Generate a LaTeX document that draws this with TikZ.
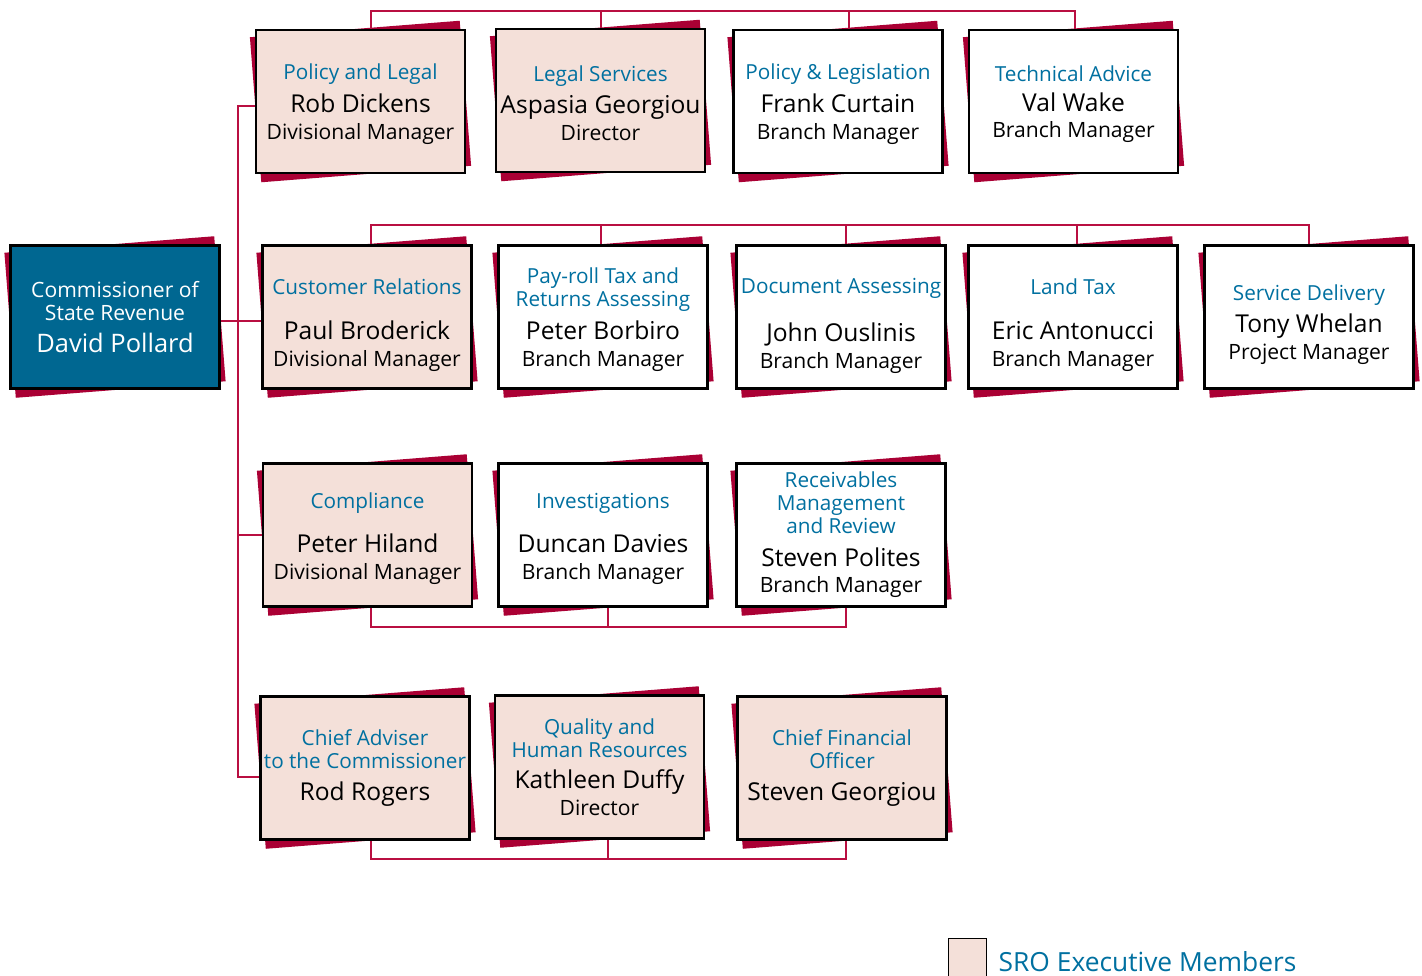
\documentclass[tikz,border=0pt]{standalone}
\usepackage{fontspec}
\setmainfont{Open Sans}
\usetikzlibrary{positioning,calc,backgrounds}
\definecolor{SROBlue}{RGB}{0,103,145}
\definecolor{SROTitle}{RGB}{0,112,160}
\definecolor{SROPink}{RGB}{244,224,217}
\definecolor{SROShadow}{RGB}{170,0,52}
\definecolor{SROLine}{RGB}{185,15,65}
\newcommand{\unittitle}{\fontsize{11.8}{13}\selectfont\color{SROTitle}}
\newcommand{\unitname}{\fontsize{14}{13}\selectfont}
\newcommand{\unitrole}{\fontsize{12}{13}\selectfont}
\newcommand{\unitdrop}[1]{\rule{0pt}{#1}}

\begin{document}
\begin{tikzpicture}[x=0.02cm,y=-0.02cm,
  unit/.style={draw=black,line width=1.6pt,fill=white,minimum width=4.18cm,minimum height=2.86cm,
    align=center,inner sep=0pt,font=\fontsize{12}{13}\selectfont},
  exec/.style={unit,fill=SROPink},
  shd/.style={fill=SROShadow,minimum width=4.21cm,minimum height=2.91cm,inner sep=0pt,rotate=4.5},
  link/.style={draw=SROLine,line width=1.2pt}]
\useasboundingbox (0,0) rectangle (1422,975);

% commissioner
\node[unit,fill=SROBlue,text=white] (cmr) at (115,317)
  {\unitrole Commissioner of\\\unitrole State Revenue\\[5pt]\fontsize{14.5}{13}\selectfont David Pollard};

% first row
\node[exec] (b1) at (360.5,101.5)
  {\unittitle Policy and Legal\unitdrop{12pt}\\[4pt]\unitname Rob Dickens\\[2.3pt]\unitrole Divisional Manager};
\node[exec] (b2) at (600.5,100.5)
  {\unittitle Legal Services\unitdrop{12pt}\\[4pt]\unitname Aspasia Georgiou\\[2.3pt]\unitrole Director};
\node[unit] (b3) at (838,101.5)
  {\unittitle Policy \& Legislation\unitdrop{12pt}\\[4pt]\unitname Frank Curtain\\[2.3pt]\unitrole Branch Manager};
\node[unit] (b4) at (1073.5,101.5)
  {\unittitle Technical Advice\unitdrop{12pt}\\[4pt]\unitname Val Wake\\[2.3pt]\unitrole Branch Manager};

% second row
\node[exec] (c1) at (367,317)
  {\unittitle Customer Relations\unitdrop{18.6pt}\\[12.7pt]\unitname Paul Broderick\\[2.3pt]\unitrole Divisional Manager};
\node[unit] (c2) at (603,317)
  {\unittitle Pay-roll Tax and\unitdrop{12pt}\\\unittitle Returns Assessing\\[4.5pt]\unitname Peter Borbiro\\[2.3pt]\unitrole Branch Manager};
\node[unit] (c3) at (841,317)
  {\unittitle Document Assessing\unitdrop{18.6pt}\\[12.7pt]\unitname John Ouslinis\\[2.3pt]\unitrole Branch Manager};
\node[unit] (c4) at (1073,317)
  {\unittitle Land Tax\unitdrop{18.6pt}\\[12.7pt]\unitname Eric Antonucci\\[2.3pt]\unitrole Branch Manager};
\node[unit] (c5) at (1309,317)
  {\unittitle Service Delivery\unitdrop{17.5pt}\\[4pt]\unitname Tony Whelan\\[2.3pt]\unitrole Project Manager};

% third row
\node[exec] (d1) at (367.5,535)
  {\unittitle Compliance\unitdrop{13pt}\\[11pt]\unitname Peter Hiland\\[2.3pt]\unitrole Divisional Manager};
\node[unit] (d2) at (603,535)
  {\unittitle Investigations\unitdrop{13pt}\\[11pt]\unitname Duncan Davies\\[2.3pt]\unitrole Branch Manager};
\node[unit] (d3) at (841,535)
  {\unittitle Receivables\\\unittitle Management\\\unittitle and Review\\[5.5pt]\unitname Steven Polites\\[2.3pt]\unitrole Branch Manager};

% fourth row
\node[exec] (e1) at (365,768)
  {\unittitle Chief Adviser\\\unittitle to the Commissioner\\[5.5pt]\unitname Rod Rogers};
\node[exec] (e2) at (599.5,767)
  {\unittitle Quality and\\\unittitle Human Resources\\[4.5pt]\unitname Kathleen Duffy\\[2.3pt]\unitrole Director};
\node[exec] (e3) at (842,768)
  {\unittitle Chief Financial\\\unittitle Officer\\[5.5pt]\unitname Steven Georgiou};

\begin{pgfonlayer}{background}
\foreach \n in {cmr,b1,b2,b3,b4,c1,c2,c3,c4,c5,d1,d2,d3,e1,e2,e3}
  \node[shd] at (\n) {};
\end{pgfonlayer}

% buses
\coordinate (trunk) at (238,0);
\coordinate (bus1) at (0,11);
\coordinate (bus2) at (0,225);
\coordinate (bus3) at (0,627);
\coordinate (bus4) at (0,859);
\coordinate (e1l) at ($(e1.west)+(0,9)$);

\draw[link] ($(b1.north)+(10.5,0)$) |- ($(b4.north |- bus1)+(1.5,0)$) -- ($(b4.north)+(1.5,0)$);
\foreach \n/\dx in {b2/0.5,b3/11}
  \draw[link] ($(\n.north)+(\dx,0)$) -- ($(\n.north |- bus1)+(\dx,0)$);

\draw[link] ($(c1.north)+(4,0)$) |- (c5.north |- bus2) -- (c5.north);
\foreach \n/\dx in {c2/-2,c3/5,c4/4}
  \draw[link] ($(\n.north)+(\dx,0)$) -- ($(\n.north |- bus2)+(\dx,0)$);

\draw[link] ($(d1.south)+(3.5,0)$) |- ($(d3.south |- bus3)+(5,0)$) -- ($(d3.south)+(5,0)$);
\draw[link] ($(d2.south)+(5,0)$) -- ($(d2.south |- bus3)+(5,0)$);

\draw[link] ($(e1.south)+(6,0)$) |- ($(e3.south |- bus4)+(4,0)$) -- ($(e3.south)+(4,0)$);
\draw[link] ($(e2.south)+(8.5,0)$) -- ($(e2.south |- bus4)+(8.5,0)$);

\draw[link] ($(b1.west)+(0,4.5)$) -| (trunk |- e1l) -- (e1l);
\draw[link] ($(cmr.east)+(0,4)$) -- ($(c1.west)+(0,4)$);
\draw[link] (d1.west) -- (d1.west -| trunk);

% legend
\node[draw=black,line width=1pt,fill=SROPink,minimum size=0.76cm,inner sep=0pt] (key) at (967.5,957.5) {};
\node[right=0.22cm of key,yshift=-0.08cm,text=SROTitle,font=\fontsize{15}{18}\selectfont,inner sep=0pt] (keytext) {SRO Executive Members};
\end{tikzpicture}
\end{document}
